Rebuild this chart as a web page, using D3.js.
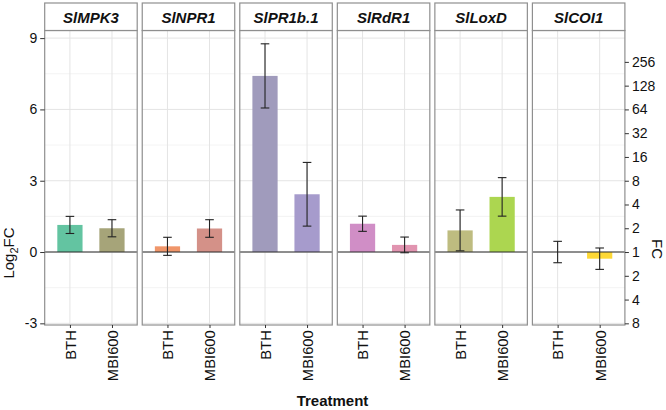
<!DOCTYPE html>
<html>
<head>
<meta charset="utf-8">
<script src="https://cdn.jsdelivr.net/npm/d3@7"></script>
<style>
  html, body { margin: 0; padding: 0; background: #fff; }
  svg { display: block; font-family: "Liberation Sans", Arial, Helvetica, sans-serif; }
</style>
</head>
<body>
<svg id="chart" width="666" height="410"></svg>
<script>
// ---------------- data ----------------
const genes = ["SlMPK3", "SlNPR1", "SlPR1b.1", "SlRdR1", "SlLoxD", "SlCOI1"];
const treatments = ["BTH", "MBI600"];
const bthLog2FC = [1.14, 0.24, 7.41, 1.19, 0.91, 0.00];
const bthSE     = [0.36, 0.38, 1.35, 0.32, 0.86, 0.45];
const mbiLog2FC = [1.00, 0.99, 2.43, 0.30, 2.32, -0.28];
const mbiSE     = [0.36, 0.37, 1.34, 0.33, 0.81, 0.45];
const bthColors = ["#63c4a1", "#f0966a", "#a09bbc", "#d08ec6", "#bebc80", "#e0e0e0"];
const mbiColors = ["#a6a479", "#d49188", "#a69bcc", "#e194b0", "#acd650", "#fdd835"];
const leftTicks = [-3, 0, 3, 6, 9];
const minorTicks = [-1.5, 1.5, 4.5, 7.5];
const fcTicks = [8, 7, 6, 5, 4, 3, 2, 1, 0, -1, -2, -3];

// ---------------- layout ----------------
const svg = d3.select("#chart");
const panelLeft0 = 44.7, panelW = 91.7, panelGap = 5.0;
const panelTop = 30.5, panelBottom = 325, stripTop = 3;

const y = d3.scaleLinear().domain([-3.07, 9.32]).range([panelBottom, panelTop]);
const panelScale = d3.scaleBand().domain(genes)
  .range([panelLeft0, panelLeft0 + genes.length * panelW + (genes.length) * panelGap])
  .paddingInner(panelGap / (panelW + panelGap)).paddingOuter(0);
const xInner = d3.scaleLinear().domain([0.4, 2.6]).range([0, panelScale.bandwidth()]);
const barWidthUnits = 0.6;

const rows = [];
genes.forEach((g, i) => {
  rows.push({gene: g, trt: treatments[0], pos: 1, v: bthLog2FC[i], se: bthSE[i], color: bthColors[i]});
  rows.push({gene: g, trt: treatments[1], pos: 2, v: mbiLog2FC[i], se: mbiSE[i], color: mbiColors[i]});
});

const gridMajor = "#e4e4e4", gridMinor = "#f0f0f0", borderCol = "#8f8f8f";

genes.forEach((g) => {
  const px = panelScale(g);
  const w = panelScale.bandwidth();
  const p = svg.append("g").attr("transform", `translate(${px},0)`);
  p.append("rect").attr("x", 0).attr("y", panelTop).attr("width", w).attr("height", panelBottom - panelTop).attr("fill", "#fff");
  p.selectAll(".gmin").data(minorTicks).enter().append("line")
    .attr("x1", 0).attr("x2", w).attr("y1", d => y(d)).attr("y2", d => y(d))
    .attr("stroke", gridMinor).attr("stroke-width", 0.8);
  p.selectAll(".gmaj").data(leftTicks).enter().append("line")
    .attr("x1", 0).attr("x2", w).attr("y1", d => y(d)).attr("y2", d => y(d))
    .attr("stroke", gridMajor).attr("stroke-width", 1);
  p.selectAll(".gv").data([1, 2]).enter().append("line")
    .attr("x1", d => xInner(d)).attr("x2", d => xInner(d)).attr("y1", panelTop).attr("y2", panelBottom)
    .attr("stroke", gridMajor).attr("stroke-width", 1);

  const data = rows.filter(r => r.gene === g);
  p.selectAll(".bar").data(data).enter().append("rect")
    .attr("x", d => xInner(d.pos - barWidthUnits / 2))
    .attr("width", d => xInner(d.pos + barWidthUnits / 2) - xInner(d.pos - barWidthUnits / 2))
    .attr("y", d => Math.min(y(d.v), y(0)))
    .attr("height", d => Math.abs(y(d.v) - y(0)))
    .attr("fill", d => d.color);
  p.append("line").attr("x1", 0).attr("x2", w).attr("y1", y(0)).attr("y2", y(0))
    .attr("stroke", "#2b2b2b").attr("stroke-width", 1.1);
  const capHalf = 4.3;
  const eb = p.selectAll(".eb").data(data).enter().append("g").attr("stroke", "#222").attr("stroke-width", 1.1);
  eb.append("line").attr("x1", d => xInner(d.pos)).attr("x2", d => xInner(d.pos))
    .attr("y1", d => y(d.v + d.se)).attr("y2", d => y(d.v - d.se));
  eb.append("line").attr("x1", d => xInner(d.pos) - capHalf).attr("x2", d => xInner(d.pos) + capHalf)
    .attr("y1", d => y(d.v + d.se)).attr("y2", d => y(d.v + d.se));
  eb.append("line").attr("x1", d => xInner(d.pos) - capHalf).attr("x2", d => xInner(d.pos) + capHalf)
    .attr("y1", d => y(d.v - d.se)).attr("y2", d => y(d.v - d.se));

  p.append("rect").attr("x", 0).attr("y", panelTop).attr("width", w).attr("height", panelBottom - panelTop)
    .attr("fill", "none").attr("stroke", borderCol).attr("stroke-width", 1.2);
  p.append("rect").attr("x", 0).attr("y", stripTop).attr("width", w).attr("height", panelTop - stripTop)
    .attr("fill", "#fff").attr("stroke", borderCol).attr("stroke-width", 1.2);
  p.append("text").attr("x", w / 2).attr("y", 23.3).attr("text-anchor", "middle")
    .attr("font-size", 15).attr("font-weight", "bold").attr("font-style", "italic").attr("fill", "#111")
    .text(g);

  const xs = d3.scaleOrdinal().domain(treatments).range([xInner(1), xInner(2)]);
  const xa = p.append("g").attr("transform", `translate(0,${panelBottom})`)
    .call(d3.axisBottom(xs).tickSize(3).tickPadding(4));
  xa.select(".domain").remove();
  xa.selectAll(".tick line").attr("stroke", "#333");
  xa.selectAll(".tick text")
    .attr("font-size", 14.8).attr("fill", "#111")
    .attr("transform", "rotate(-90)")
    .attr("text-anchor", "end").attr("dx", "-0.35em").attr("dy", "0.36em")
    .attr("x", 0).attr("y", 0)
    .attr("font-family", "Liberation Sans, Arial, sans-serif");
});

// left axis
const la = svg.append("g").attr("transform", `translate(${panelLeft0},0)`)
  .call(d3.axisLeft(y).tickValues(leftTicks).tickSize(4.5).tickPadding(3).tickFormat(d => String(d)));
la.select(".domain").remove();
la.selectAll(".tick line").attr("stroke", "#333");
la.selectAll(".tick text").attr("font-size", 14).attr("fill", "#111").attr("font-family", "Liberation Sans, Arial, sans-serif");

// right axis (FC)
const rightX = panelScale(genes[genes.length - 1]) + panelScale.bandwidth();
const ra = svg.append("g").attr("transform", `translate(${rightX},0)`)
  .call(d3.axisRight(y).tickValues(fcTicks).tickSize(4).tickPadding(3)
    .tickFormat(d => String(Math.pow(2, Math.abs(d)))));
ra.select(".domain").remove();
ra.selectAll(".tick line").attr("stroke", "#333");
ra.selectAll(".tick text").attr("font-size", 14).attr("fill", "#111").attr("font-family", "Liberation Sans, Arial, sans-serif");

// axis titles
const lt = svg.append("text").attr("transform", "translate(14,253) rotate(-90)")
  .attr("text-anchor", "middle").attr("font-size", 15).attr("fill", "#111");
lt.append("tspan").text("Log");
lt.append("tspan").attr("font-size", 11).attr("dy", 4).text("2");
lt.append("tspan").attr("dy", -4).text("FC");

svg.append("text").attr("transform", "translate(652,249) rotate(90)")
  .attr("text-anchor", "middle").attr("font-size", 15).attr("fill", "#111").text("FC");

svg.append("text").attr("x", 332.5).attr("y", 406).attr("text-anchor", "middle")
  .attr("font-size", 15).attr("font-weight", "bold").attr("fill", "#111").text("Treatment");
</script>
</body>
</html>
